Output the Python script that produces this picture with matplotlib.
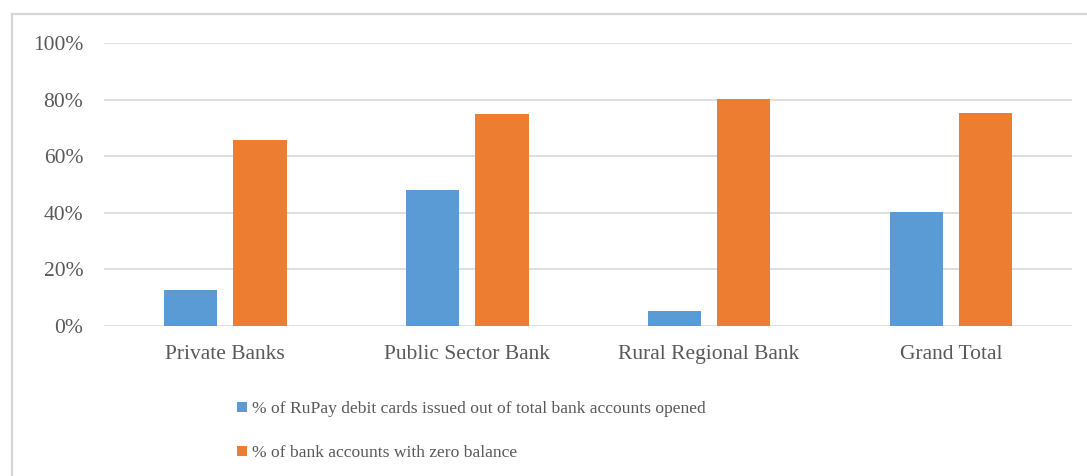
import numpy as np
import matplotlib
matplotlib.use('Agg')
from matplotlib import pyplot as plt
from matplotlib.lines import Line2D
from matplotlib.ticker import PercentFormatter

# data
categories = ['Private Banks', 'Public Sector Bank', 'Rural Regional Bank', 'Grand Total']
rupay_pct = [0.127, 0.482, 0.053, 0.402]
zero_bal_pct = [0.657, 0.750, 0.802, 0.752]
series_labels = ['% of RuPay debit cards issued out of total bank accounts opened',
                 '% of bank accounts with zero balance']

plt.rcParams['font.family'] = ['Liberation Serif', 'DejaVu Serif']
text_col = '#595959'

fig = plt.figure(figsize=(10.87, 4.76), dpi=100)
ax = fig.add_axes([0.0957, 0.3151, 0.8905, 0.5946])

x = np.arange(len(categories))
w = 0.223
off = 0.1426
ax.bar(x - off, rupay_pct, w, color='#5B9BD5', label=series_labels[0], zorder=3)
ax.bar(x + off, zero_bal_pct, w, color='#ED7D31', label=series_labels[1], zorder=3)

ax.set_xlim(-0.5, 3.5)
ax.set_ylim(0, 1)
ax.set_yticks(np.arange(0, 1.01, 0.2))
ax.yaxis.set_major_formatter(PercentFormatter(1.0, decimals=0))
ax.set_xticks(x)
ax.set_xticklabels(categories)
ax.tick_params(length=0, labelsize=15.5, colors=text_col)
ax.tick_params(axis='y', pad=15)
ax.tick_params(axis='x', pad=14)
ax.grid(axis='y', color='#D9D9D9', linewidth=1.2, zorder=0)
for s in ax.spines.values():
    s.set_visible(False)

leg = fig.legend(loc='upper left', bbox_to_anchor=(0.2115, 0.172), frameon=False,
                 fontsize=12.6, labelcolor=text_col, handlelength=0.55, handleheight=0.55,
                 handletextpad=0.3, labelspacing=1.6, borderaxespad=0)

# outer chart frame (top and left edges visible in the crop)
fig.add_artist(Line2D([12/1087, 12/1087], [0, 1 - 14/476], color='#D6D6D6', lw=1.6))
fig.add_artist(Line2D([12/1087, 1], [1 - 14/476, 1 - 14/476], color='#D6D6D6', lw=1.6))

fig.savefig('out.png', dpi=100)
